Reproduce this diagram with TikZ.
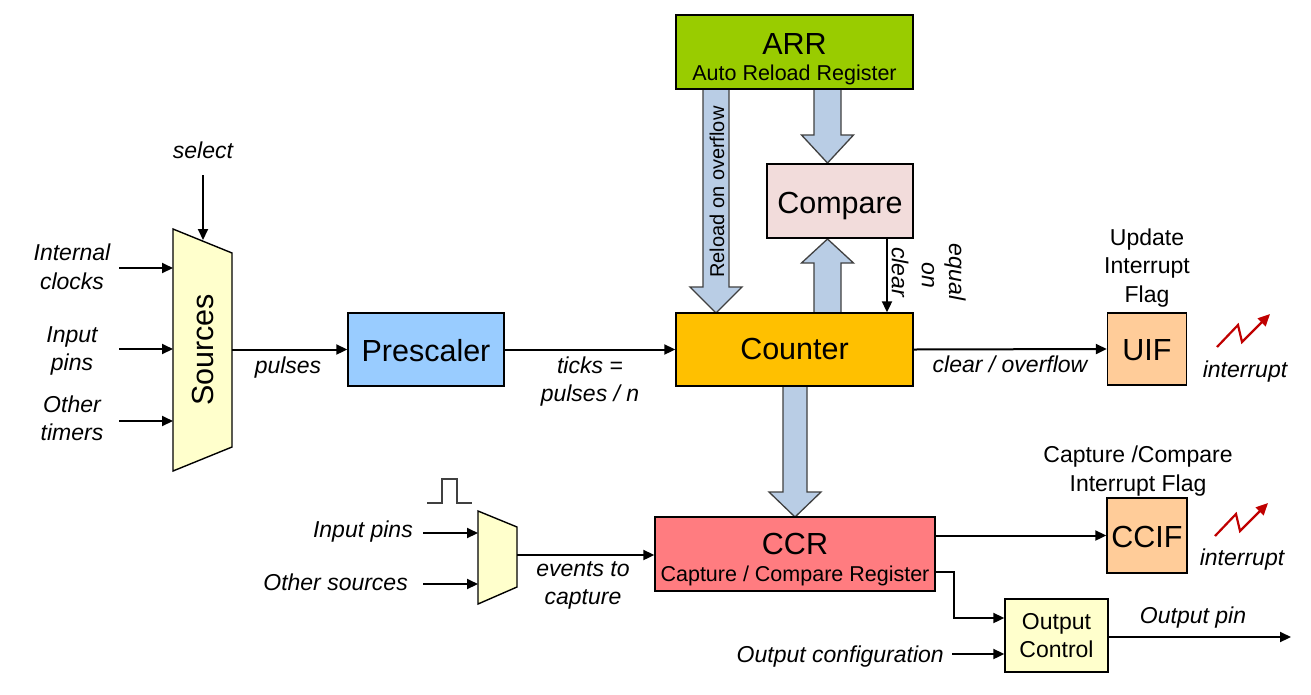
\documentclass[tikz,border=0pt]{standalone}
\usepackage{fontspec}
\setmainfont{Liberation Sans}
\usetikzlibrary{arrows.meta,calc}
\definecolor{arrgreen}{HTML}{99CC00}
\definecolor{cmppink}{HTML}{F2DCDB}
\definecolor{cntorange}{HTML}{FFC000}
\definecolor{preblue}{HTML}{99CCFF}
\definecolor{ccrred}{HTML}{FF7C80}
\definecolor{flagpeach}{HTML}{FFCC99}
\definecolor{muxyellow}{HTML}{FFFFCC}
\definecolor{fatblue}{HTML}{B9CDE5}
\definecolor{fatedge}{HTML}{404040}
\definecolor{zigred}{HTML}{C00000}
\newcommand\fatarrowv[6]{%
  \draw[fat] (#1-#5,#2) -- (#1+#5,#2) -- (#1+#5,#3) -- (#1+#6,#3) -- (#1,#4) -- (#1-#6,#3) -- (#1-#5,#3) -- cycle;}
\begin{document}
\begin{tikzpicture}[x=1pt,y=-1pt,
  box/.style={draw=black,line width=1.4pt,inner sep=0pt},
  big/.style={font=\fontsize{30.5}{34}\selectfont,inner sep=0pt},
  small/.style={font=\fontsize{21.5}{26}\selectfont,inner sep=0pt},
  lbl/.style={font=\fontsize{23}{28.5}\selectfont\itshape,align=center,inner sep=0pt},
  plain/.style={font=\fontsize{23}{28.5}\selectfont,align=center,inner sep=0pt},
  arr/.style={line width=2pt,-{Triangle[length=11pt,width=10pt]}},
  fat/.style={fill=fatblue,draw=fatedge,line width=1.3pt,line join=miter},
  zig/.style={draw=zigred,line width=2.2pt,line join=miter,-{Triangle[length=12pt,width=11pt]}},
  pulse/.style={draw=fatedge,line width=1.5pt}
]
\fill[white] (0,0) rectangle (1311,694);
\useasboundingbox (0,0) rectangle (1311,694);

% fat arrows
\fatarrowv{716}{89}{287}{313}{13}{26}
\fatarrowv{827.5}{89}{135}{163}{13.5}{26}
\fatarrowv{827.5}{313}{263}{239}{13.5}{26}
\fatarrowv{795}{386}{492}{517}{12}{26}

% boxes
\node[box,fill=arrgreen,minimum width=237,minimum height=74] (arr) at (794.5,52) {};
\node[big,anchor=base] (arrt) at (794.5,54) {ARR};
\node[small,anchor=base] (arrs) at (794.5,80) {Auto Reload Register};

\node[box,fill=cmppink,minimum width=146,minimum height=74] (compare) at (840,201) {};
\node[big,anchor=base] (comparet) at (840,213) {Compare};

\node[box,fill=cntorange,minimum width=237,minimum height=73] (counter) at (794.5,349.5) {};
\node[big,anchor=base] (countert) at (794.5,359) {Counter};

\node[box,fill=preblue,minimum width=156,minimum height=73] (pre) at (426,349.5) {};
\node[big,anchor=base] (pret) at (426,361) {Prescaler};

\node[box,fill=ccrred,minimum width=280,minimum height=74] (ccr) at (795,554) {};
\node[big,anchor=base] (ccrt) at (795,554) {CCR};
\node[small,anchor=base] (ccrs) at (795,581) {Capture / Compare Register};

\node[box,fill=flagpeach,minimum width=79,minimum height=72] (uif) at (1147,349) {};
\node[big,anchor=base] (uift) at (1147,360) {UIF};
\node[box,fill=flagpeach,minimum width=80,minimum height=75] (ccif) at (1147,535.5) {};
\node[big,anchor=base] (ccift) at (1147,547) {CCIF};

\node[box,fill=muxyellow,minimum width=103,minimum height=73,plain] (oc) at (1056.5,635.5) {Output\\Control};

% muxes
\draw[box,fill=muxyellow] (173,229) -- (232,253) -- (232,447) -- (173,471) -- cycle;
\node[big,rotate=90] (srct) at (203,350) {Sources};
\draw[box,fill=muxyellow] (478,511) -- (517,527) -- (517,587) -- (478,604) -- cycle;

\coordinate (srcin1) at (173,268);
\coordinate (srcin2) at (173,349);
\coordinate (srcin3) at (173,421);
\coordinate (srcsel) at (203,240);
\coordinate (srcout) at (232,349.5);
\coordinate (muxin1) at (478,533);
\coordinate (muxin2) at (478,584);
\coordinate (muxout) at (517,555);

% left labels and inputs
\node[lbl] (l1) at (72,267) {Internal\\clocks};
\node[lbl] (l2) at (72,351) {Input\\pins};
\node[lbl] (l3) at (72,418.5) {Other\\timers};
\draw[arr] (srcin1 -| 119,0) -- (srcin1);
\draw[arr] (srcin2 -| 119,0) -- (srcin2);
\draw[arr] (srcin3 -| 119,0) -- (srcin3);
\node[lbl,anchor=base] (sel) at (203,158) {select};
\draw[arr] (srcsel |- 0,175) -- (srcsel);

\draw[arr] (srcout) -- (pre.west);
\node[lbl,anchor=base] (pulses) at (288,373) {pulses};
\draw[arr] (pre.east) -- (counter.west);
\node[lbl] (ticks) at (590,381.5) {ticks =\\pulses / n};

% rotated texts
\node[font=\fontsize{20}{24}\selectfont,inner sep=0pt,rotate=90] (reload) at (717,192) {Reload on overflow};
\draw[arr] (compare.south -| 887,0) -- (counter.north -| 887,0);
\node[lbl,rotate=-90] (clr) at (900,272) {clear};
\node[lbl,rotate=-90] (on) at (928,275) {on};
\node[lbl,rotate=-90] (eq) at (955,272) {equal};

% UIF
\draw[arr] (counter.east) -- (uif.west);
\node[lbl,anchor=base] (co) at (1010,372) {clear / overflow};
\node[plain] (uifl) at (1147,268) {Update\\Interrupt\\Flag};
\coordinate (z1) at (1217,347);
\draw[zig] (z1) -- (1238,325) -- (1242,342) -- (1270,314);
\node[lbl,anchor=base] (int1) at (1245,377) {interrupt};

% capture mux
\draw[pulse] (427,503) -- (442,503) -- (442,479) -- (457,479) -- (457,503) -- (472,503);
\node[lbl,anchor=base east] (ip) at (413,537) {Input pins};
\node[lbl,anchor=base east] (os) at (408,590) {Other sources};
\draw[arr] (muxin1 -| 423,0) -- (muxin1);
\draw[arr] (muxin2 -| 423,0) -- (muxin2);
\draw[arr] (muxout) -- (muxout -| ccr.west);
\node[lbl] (ev) at (583,585.5) {events to\\capture};

% CCIF
\draw[arr] (ccif.west -| ccr.east) -- (ccif.west);
\node[plain] (ccifl) at (1138,471) {Capture /Compare\\Interrupt Flag};
\coordinate (z2) at (1215,536);
\draw[zig] (z2) -- (1236,514) -- (1240,531) -- (1268,503);
\node[lbl,anchor=base] (int2) at (1242,565) {interrupt};

% output control
\coordinate (ccrout) at (935,572);
\draw[arr] (ccrout) -- (954,572) |- ($(oc.west)+(0,-17.5)$);
\draw[arr] ($(oc.west)+(-52,18.5)$) -- ($(oc.west)+(0,18.5)$);
\node[lbl,anchor=base east] (ocfg) at (944,662) {Output configuration};
\draw[arr] ($(oc.east)+(0,1.5)$) -- (1291,637);
\node[lbl,anchor=base] (opin) at (1193,623) {Output pin};
\end{tikzpicture}
\end{document}
